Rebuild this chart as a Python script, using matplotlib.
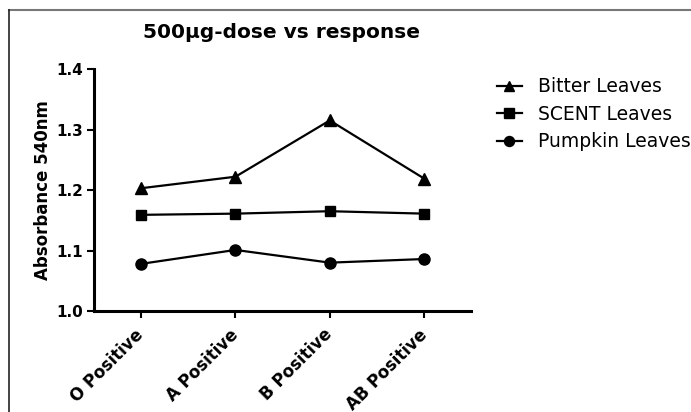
import matplotlib.pyplot as plt
from matplotlib.lines import Line2D

# Data
groups = ["O Positive", "A Positive", "B Positive", "AB Positive"]
bitter = [1.203, 1.222, 1.315, 1.219]
scent = [1.159, 1.161, 1.165, 1.161]
pumpkin = [1.078, 1.101, 1.080, 1.086]

plt.rcParams['font.family'] = 'DejaVu Sans'

fig = plt.figure(figsize=(6.91, 4.12), dpi=100)
ax = fig.add_axes([0.136, 0.245, 0.546, 0.5875])

x = range(len(groups))
ax.plot(x, bitter, color='black', lw=1.6, marker='^', ms=8, label="Bitter Leaves")
ax.plot(x, scent, color='black', lw=1.6, marker='s', ms=7.5, label="SCENT Leaves")
ax.plot(x, pumpkin, color='black', lw=1.6, marker='o', ms=8, label="Pumpkin Leaves")

ax.set_xlim(-0.5, 3.5)
ax.set_ylim(1.0, 1.4)
ax.set_yticks([1.0, 1.1, 1.2, 1.3, 1.4])
ax.set_xticks(list(x))
ax.set_xticklabels(groups, rotation=45, ha='right', va='center',
                   rotation_mode='anchor', fontweight='bold', fontsize=12)
for lbl in ax.get_yticklabels():
    lbl.set_fontweight('bold')
    lbl.set_fontsize(11)

ax.spines['top'].set_visible(False)
ax.spines['right'].set_visible(False)
ax.spines['left'].set_linewidth(2.2)
ax.spines['bottom'].set_linewidth(2.2)
ax.tick_params(axis='both', direction='out', length=5, width=1.5, pad=3)
ax.tick_params(axis='x', pad=10)

ax.set_ylabel("Absorbance 540nm", fontsize=12, fontweight='bold', labelpad=3)
fig.text(0.408, 0.92, "500µg-dose vs response", ha='center', va='center',
         fontsize=14.5, fontweight='bold')

fig.legend(loc='upper left', bbox_to_anchor=(0.705, 0.835), frameon=False,
           fontsize=13.5, handlelength=1.35, handletextpad=0.85,
           labelspacing=0.45, borderpad=0, markerscale=0.9)

# thin frame on top / left like the source screenshot
fig.add_artist(Line2D([0.013, 1.0], [0.976, 0.976], color='#777777', lw=1.5))
fig.add_artist(Line2D([0.013, 0.013], [0.0, 0.976], color='#222222', lw=1.2))

plt.savefig("out.png", dpi=100)
